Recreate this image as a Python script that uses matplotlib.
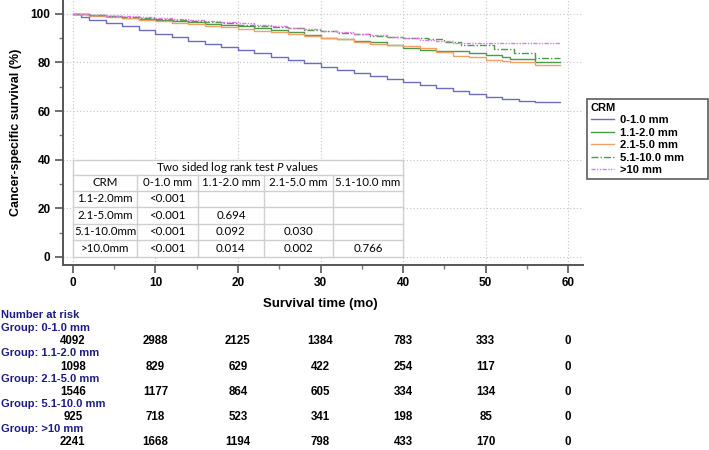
import numpy as np
import matplotlib
matplotlib.use("Agg")
import matplotlib.pyplot as plt
from matplotlib.transforms import blended_transform_factory
from matplotlib.ticker import MultipleLocator

plt.rcParams['font.family'] = ['Liberation Sans', 'DejaVu Sans']
plt.rcParams['mathtext.fontset'] = 'custom'
plt.rcParams['mathtext.it'] = 'Lato:italic'
plt.rcParams['mathtext.rm'] = 'Lato'

# ---- survival curves (step points) ----
groups = ['0-1.0 mm', '1.1-2.0 mm', '2.1-5.0 mm', '5.1-10.0 mm', '>10 mm']

t_a = [0, 1, 2, 4, 6, 8, 10, 12, 14, 16, 18, 20, 22, 24, 26, 28, 30, 32, 34, 36,
       38, 40, 42, 44, 46, 48, 50, 52, 54, 56, 59]
s_a = [100, 98.6, 97.6, 96.2, 94.8, 93.2, 91.6, 90.4, 89.0, 87.8, 86.5, 85.2, 83.8,
       82.4, 81.0, 79.6, 78.2, 77.0, 75.8, 74.6, 73.3, 72.0, 70.8, 69.6, 68.4, 67.2,
       66.0, 65.0, 64.2, 63.6, 63.6]

t_b = [0, 2, 4, 6, 8, 10, 12, 14, 16, 18, 20, 22, 24, 26, 28, 30, 32, 34, 36, 38,
       40, 42, 44, 46, 48, 50, 52, 53, 56, 59]
s_b = [100, 99.4, 99.0, 98.5, 98.0, 97.5, 97.0, 96.5, 96.0, 95.4, 94.8, 94.2, 93.5,
       92.4, 91.2, 90.2, 89.6, 89.0, 88.3, 87.2, 86.0, 85.0, 84.8, 84.6, 84.0, 83.1,
       82.2, 81.5, 80.0, 80.0]

t_c = [0, 2, 4, 6, 8, 10, 12, 14, 16, 18, 20, 22, 24, 26, 28, 30, 32, 34, 36, 38,
       40, 42, 44, 46, 48, 50, 52, 53, 56, 59]
s_c = [100, 99.3, 98.8, 98.2, 97.6, 97.0, 96.4, 95.8, 95.2, 94.6, 93.8, 93.0, 92.4,
       91.8, 91.0, 90.2, 89.5, 88.6, 87.8, 87.2, 86.8, 86.0, 84.2, 82.6, 82.2, 81.0,
       80.6, 80.1, 79.0, 79.0]

t_d = [0, 2, 4, 6, 8, 10, 12, 14, 16, 18, 20, 22, 24, 26, 28, 30, 32, 34, 36, 38,
       40, 43, 45, 47, 51, 53.5, 56, 59]
s_d = [100, 99.5, 99.2, 98.8, 98.4, 98.0, 97.6, 97.2, 96.8, 96.2, 95.6, 95.0, 94.5,
       94.0, 93.4, 92.8, 92.2, 91.6, 91.0, 90.4, 89.9, 89.5, 88.6, 87.0, 85.5, 84.0,
       81.8, 81.8]

t_e = [0, 2, 4, 6, 8, 10, 12, 14, 16, 18, 20, 22, 24, 26, 28, 30, 32, 34, 36, 38,
       40, 42, 44, 46, 48, 59]
s_e = [100, 99.6, 99.3, 99.0, 98.6, 98.2, 97.8, 97.4, 97.0, 96.6, 96.2, 95.6, 95.0,
       94.3, 93.6, 93.0, 92.4, 91.8, 91.2, 90.6, 90.0, 89.4, 88.8, 88.2, 88.0, 88.0]

# ---- log rank table ----
col_heads = ['CRM', '0-1.0 mm', '1.1-2.0 mm', '2.1-5.0 mm', '5.1-10.0 mm']
row_heads = ['1.1-2.0mm', '2.1-5.0mm', '5.1-10.0mm', '>10.0mm']
p_vals = [['<0.001', '', '', ''],
          ['<0.001', '0.694', '', ''],
          ['<0.001', '0.092', '0.030', ''],
          ['<0.001', '0.014', '0.002', '0.766']]

# ---- number at risk ----
risk_times = [0, 10, 20, 30, 40, 50, 60]
risk_a = [4092, 2988, 2125, 1384, 783, 333, 0]
risk_b = [1098, 829, 629, 422, 254, 117, 0]
risk_c = [1546, 1177, 864, 605, 334, 134, 0]
risk_d = [925, 718, 523, 341, 198, 85, 0]
risk_e = [2241, 1668, 1194, 798, 433, 170, 0]

fig = plt.figure(figsize=(7.09, 4.5), dpi=100)
ax = fig.add_axes([63/709, 1-265/450, 520/709, 265/450])

curves = [(t_a, s_a), (t_b, s_b), (t_c, s_c), (t_d, s_d), (t_e, s_e)]
colors = ['#6c6cc0', '#4b9b4b', '#f2a066', '#4b9b4b', '#e477e4']
styles = ['-', '-', '-', (0, (5, 1.5, 1, 1.5)), (0, (3, 1, 1, 1, 1, 1))]
for (t, s), c, ls, g in zip(curves, colors, styles, groups):
    ax.plot(t, s, drawstyle='steps-post', color=c, ls=ls, lw=1.0, label=g, zorder=3)

ax.set_xlim(-1.2, 61.8)
ax.set_ylim(-3.3, 105.7)
ax.xaxis.set_major_locator(MultipleLocator(10))
ax.xaxis.set_minor_locator(MultipleLocator(5))
ax.yaxis.set_major_locator(MultipleLocator(20))
ax.yaxis.set_minor_locator(MultipleLocator(10))
ax.grid(True, which='major', color='#c4c4c4', ls=(0, (1, 2)), lw=0.8)
ax.set_axisbelow(True)
for sp in ['top', 'right']:
    ax.spines[sp].set_visible(False)
for sp in ['left', 'bottom']:
    ax.spines[sp].set_color('#555555')
    ax.spines[sp].set_linewidth(1.4)
ax.tick_params(which='major', length=6, width=1.2, color='#555555', labelsize=8.5, pad=3)
ax.tick_params(which='minor', length=3, width=1.0, color='#777777')
for lab in ax.get_xticklabels() + ax.get_yticklabels():
    lab.set_fontweight('bold')
ax.set_xlabel('Survival time (mo)', fontsize=9.5, fontweight='bold', labelpad=5)
ax.set_ylabel('Cancer-specific survival (%)', fontsize=9, fontweight='bold', labelpad=6)
ax.xaxis.set_label_coords((320-63)/520, -33/265)

# table drawn in data coordinates
xb = [0, 7.8, 15.1, 23.2, 31.5, 40]
yb = [39.9, 33.7, 27.2, 20.6, 13.6, 7.0, 0]
lc = '#cfcfcf'
ax.add_patch(plt.Rectangle((xb[0], yb[-1]), xb[-1]-xb[0], yb[0]-yb[-1],
                           facecolor='white', edgecolor='none', zorder=2))
for y in yb:
    ax.plot([xb[0], xb[-1]], [y, y], color=lc, lw=1, zorder=2.5)
ax.plot([xb[0], xb[0]], [yb[0], yb[-1]], color=lc, lw=1, zorder=2.5)
ax.plot([xb[-1], xb[-1]], [yb[0], yb[-1]], color=lc, lw=1, zorder=2.5)
for x in xb[1:-1]:
    ax.plot([x, x], [yb[1], yb[-1]], color=lc, lw=1, zorder=2.5)
tf = dict(fontsize=8.3, family=['Lato', 'DejaVu Sans'], ha='center', va='center', zorder=4)
ax.text((xb[0]+xb[-1])/2, (yb[0]+yb[1])/2, 'Two sided log rank test $\\it{P}$ values', **tf)
for j, h in enumerate(col_heads):
    ax.text((xb[j]+xb[j+1])/2, (yb[1]+yb[2])/2, h, **tf)
for i, rh in enumerate(row_heads):
    yc = (yb[i+2]+yb[i+3])/2
    ax.text((xb[0]+xb[1])/2, yc, rh, **tf)
    for j, v in enumerate(p_vals[i]):
        ax.text((xb[j+1]+xb[j+2])/2, yc, v, **tf)

# legend
leg = ax.legend(title='CRM', loc='upper left',
                bbox_to_anchor=(587/709, 1-181/450, 121/709, 82/450), mode='expand',
                bbox_transform=fig.transFigure, frameon=True, fancybox=False,
                edgecolor='#333333', fontsize=8, title_fontsize=8, handlelength=2.1,
                handletextpad=0.55, labelspacing=0.22, borderpad=0.35, borderaxespad=0,
                alignment='left')
leg.get_frame().set_linewidth(1.2)
leg.get_title().set_fontweight('bold')
for txt in leg.get_texts():
    txt.set_fontweight('bold')

# number at risk
navy = '#1c1c84'
fig.text(1/709, 1-315/450, 'Number at risk', color=navy, fontsize=8, fontweight='bold',
         ha='left', va='center')
tr = blended_transform_factory(ax.transData, fig.transFigure)
risk_rows = [risk_a, risk_b, risk_c, risk_d, risk_e]
for i, (g, row) in enumerate(zip(groups, risk_rows)):
    fig.text(1/709, 1-(328+25.3*i)/450, 'Group: ' + g, color=navy, fontsize=8,
             fontweight='bold', ha='left', va='center')
    for t, n in zip(risk_times, row):
        ax.text(t, 1-(341.5+25.2*i)/450, str(n), transform=tr, fontsize=8.3,
                fontweight='bold', ha='center', va='center', clip_on=False)

fig.savefig('out.png', dpi=100)
